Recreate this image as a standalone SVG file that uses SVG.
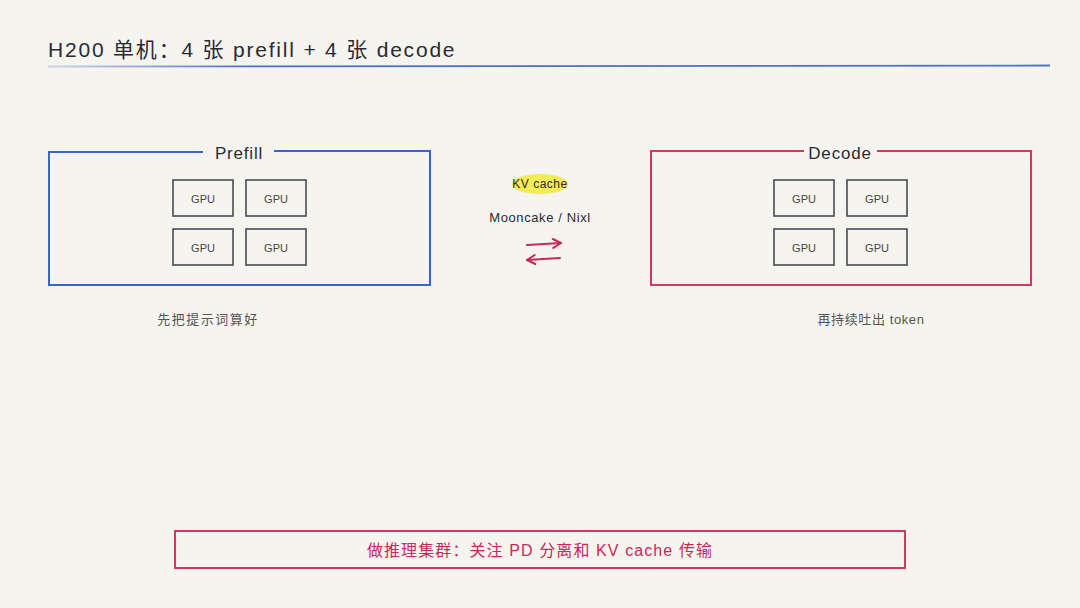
<svg xmlns="http://www.w3.org/2000/svg" width="1080" height="608" viewBox="0 0 1080 608">
<defs>
<linearGradient id="ul" x1="0" y1="0" x2="1" y2="0">
<stop offset="0" stop-color="#3a5fd0" stop-opacity="0.2"/>
<stop offset="0.2" stop-color="#3a5fd0" stop-opacity="0.9"/>
<stop offset="1" stop-color="#3a5fd0" stop-opacity="0.9"/>
</linearGradient>
<marker id="ah" viewBox="0 0 12 12" refX="11" refY="6" markerWidth="12" markerHeight="12" orient="auto" markerUnits="userSpaceOnUse">
<path d="M3,1.5 L11,6 L3,10.5" fill="none" stroke="#c9285c" stroke-width="2" stroke-linecap="round" stroke-linejoin="round"/>
</marker>
<style>
text{font-family:"Liberation Sans","Noto Sans CJK SC",sans-serif}
.gpu rect{fill:none;stroke:#4a4a55;stroke-width:1.6}
.gpu text{font-size:11px;fill:#444;text-anchor:middle}
.lbl{font-size:17px;fill:#2a2a33;text-anchor:middle;letter-spacing:0.8px}
.cap{font-size:13px;fill:#555;text-anchor:middle}
.conn{fill:none;stroke:#c9285c;stroke-width:2;stroke-linecap:round}
</style>
</defs>
<rect width="1080" height="608" fill="#f6f4ef"/>
<g id="title">
<text x="48" y="57" font-size="21" fill="#2a2a33" letter-spacing="1.8">H200 单机：4 张 prefill + 4 张 decode</text>
<line x1="48" y1="66.5" x2="1050" y2="65.5" stroke="url(#ul)" stroke-width="1.8"/>
</g>
<g id="prefill">
<path d="M203,152 L49,152 L49,285 L430,285 L430,151 L274,151" fill="none" stroke="#3a63d0" stroke-width="2"/>
<text class="lbl" x="239" y="159">Prefill</text>
<g class="gpu">
<rect x="173" y="180" width="60" height="36"/><text x="203" y="203">GPU</text>
<rect x="246" y="180" width="60" height="36"/><text x="276" y="203">GPU</text>
<rect x="173" y="229" width="60" height="36"/><text x="203" y="252">GPU</text>
<rect x="246" y="229" width="60" height="36"/><text x="276" y="252">GPU</text>
</g>
<text class="cap" x="208" y="324" letter-spacing="1.5">先把提示词算好</text>
</g>
<g id="decode">
<path d="M804,151 L651,151 L651,285 L1031,285 L1031,151 L877,151" fill="none" stroke="#d03a5e" stroke-width="2"/>
<text class="lbl" x="840" y="159">Decode</text>
<g class="gpu">
<rect x="774" y="180" width="60" height="36"/><text x="804" y="203">GPU</text>
<rect x="847" y="180" width="60" height="36"/><text x="877" y="203">GPU</text>
<rect x="774" y="229" width="60" height="36"/><text x="804" y="252">GPU</text>
<rect x="847" y="229" width="60" height="36"/><text x="877" y="252">GPU</text>
</g>
<text class="cap" x="871" y="324" letter-spacing="0.6">再持续吐出 token</text>
</g>
<g id="kvcache">
<ellipse cx="540" cy="184" rx="28" ry="10" fill="#f3e93a" opacity="0.85"/>
<text x="540" y="188" font-size="12" fill="#2a2a33" text-anchor="middle" letter-spacing="0.5">KV cache</text>
<text x="540" y="222" font-size="13" fill="#2a2a33" text-anchor="middle" letter-spacing="0.6">Mooncake / Nixl</text>
</g>
<g id="connectors">
<line class="conn" x1="527" y1="245" x2="561" y2="243" marker-end="url(#ah)"/>
<line class="conn" x1="560" y1="258" x2="527" y2="260" marker-end="url(#ah)"/>
</g>
<g id="summary">
<rect x="175" y="531" width="730" height="37" fill="none" stroke="#d03a5e" stroke-width="2"/>
<text x="540" y="556" font-size="16" fill="#c9285c" text-anchor="middle" letter-spacing="1.1">做推理集群：关注 PD 分离和 KV cache 传输</text>
</g>
</svg>
